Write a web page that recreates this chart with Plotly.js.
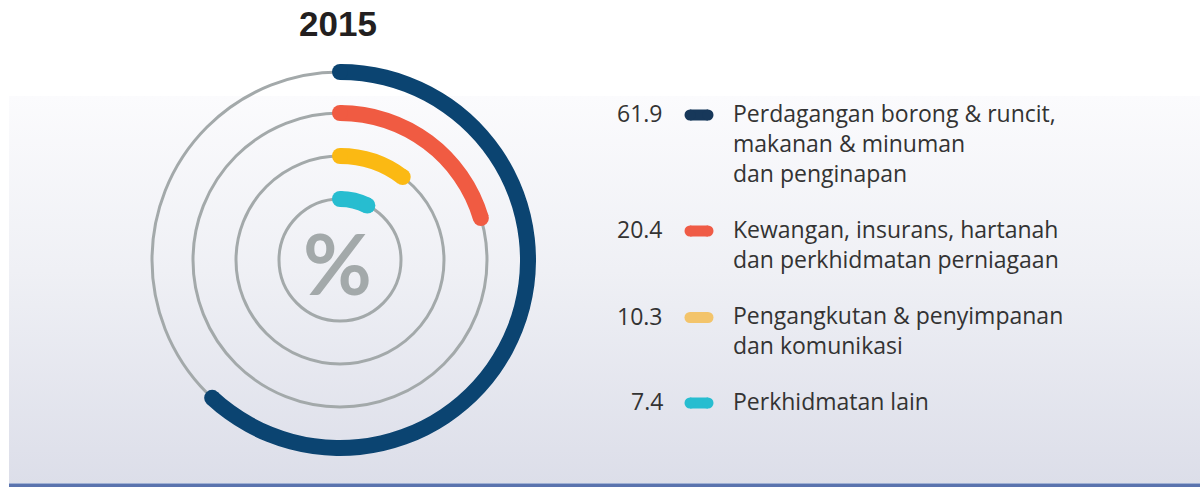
<!DOCTYPE html>
<html>
<head>
<meta charset="utf-8">
<script src="https://cdn.plot.ly/plotly-3.0.1.min.js"></script>
<style>
  html, body { margin: 0; padding: 0; background: #ffffff; }
  #wrap { position: relative; width: 1200px; height: 487px; overflow: hidden; }
  #panel { position: absolute; left: 9px; top: 96px; width: 1191px; height: 388px;
           background: linear-gradient(to bottom, #fbfbfd 0%, #eff0f5 45%, #dcdee9 100%); }
  #rule { position: absolute; left: 9px; top: 483px; width: 1191px; height: 4px;
          background: #5a73ae; border-top: 1px solid #9fb0d4; box-sizing: border-box; }
  #chart { position: absolute; left: 0; top: 0; width: 1200px; height: 487px; }
</style>
</head>
<body>
<div id="wrap">
  <div id="panel"></div>
  <div id="rule"></div>
  <div id="chart"></div>
</div>
<script>
// ---- data ----
const chartTitle = '2015';
const categories = [
  'Perdagangan borong & runcit,<br>makanan & minuman<br>dan penginapan',
  'Kewangan, insurans, hartanah<br>dan perkhidmatan perniagaan',
  'Pengangkutan & penyimpanan<br>dan komunikasi',
  'Perkhidmatan lain'
];
const values = [61.9, 20.4, 10.3, 7.4];
const valueLabels = ['61.9', '20.4', '10.3', '7.4'];
const centerSymbol = '%';

// ---- styles / layout constants ----
const arcColors = ['#0b4471', '#f05b42', '#fbb913', '#27bdd0'];
const legendColors = ['#17385a', '#ef5b46', '#f3c46b', '#27bdd0'];
const ringRadii = [188, 147, 104, 61];   // radial positions (px units on radial axis)
const ringThickness = 16;
const legendY = [113, 229, 315.5, 401]; // center of first line per entry (px from top)
const textColor = '#333333';
const gridGrey = '#a3a9aa';
const textFont = 'Open Sans, sans-serif';
const textSize = 23;
const lineStep = 1.3 * textSize;

const W = 1200, H = 487;
const cx = 340, cy = 260, R = 200;

const traces = [];
values.forEach((v, i) => {
  const sweep = v * 3.6;
  traces.push({
    type: 'barpolar',
    r: [ringThickness],
    base: [ringRadii[i] - ringThickness / 2],
    theta: [sweep / 2],
    width: [sweep],
    marker: { color: arcColors[i], line: { width: 0 } },
    hoverinfo: 'skip',
    showlegend: false,
    subplot: 'polar'
  });
  traces.push({
    type: 'scatterpolar',
    mode: 'markers',
    r: [ringRadii[i], ringRadii[i]],
    theta: [0, sweep],
    marker: { color: arcColors[i], size: ringThickness, line: { width: 0 } },
    hoverinfo: 'skip',
    showlegend: false,
    subplot: 'polar'
  });
  // legend pill
  traces.push({
    type: 'scatter',
    mode: 'lines+markers',
    x: [690, 708],
    y: [legendY[i] + 2, legendY[i] + 2],
    line: { color: legendColors[i], width: 11 },
    marker: { color: legendColors[i], size: 11, line: { width: 0 } },
    hoverinfo: 'skip',
    showlegend: false,
    xaxis: 'x', yaxis: 'y'
  });
});

const annotations = [];
annotations.push({
  text: '<b>' + chartTitle + '</b>', xref: 'paper', yref: 'paper',
  x: 338 / W, y: 1 - 24 / H, xanchor: 'center', yanchor: 'middle', showarrow: false,
  font: { family: 'Liberation Sans, Arial, sans-serif', size: 35, color: '#231f20' }
});
annotations.push({
  text: centerSymbol, xref: 'paper', yref: 'paper',
  x: 337 / W, y: 1 - 262 / H, xanchor: 'center', yanchor: 'middle', showarrow: false,
  font: { family: 'Lato, sans-serif', size: 84, color: gridGrey, weight: 'bold' }
});
categories.forEach((c, i) => {
  const nLines = c.split('<br>').length;
  annotations.push({
    text: valueLabels[i], xref: 'x', yref: 'y',
    x: 665, y: legendY[i], xanchor: 'right', yanchor: 'middle', showarrow: false,
    font: { family: textFont, size: textSize, color: textColor }
  });
  annotations.push({
    text: c, xref: 'x', yref: 'y', align: 'left',
    x: 731, y: legendY[i] + (nLines - 1) * lineStep / 2, xanchor: 'left', yanchor: 'middle',
    showarrow: false,
    font: { family: textFont, size: textSize, color: textColor }
  });
});

const layout = {
  width: W, height: H,
  margin: { l: 0, r: 0, t: 0, b: 0 },
  paper_bgcolor: 'rgba(0,0,0,0)',
  plot_bgcolor: 'rgba(0,0,0,0)',
  showlegend: false,
  xaxis: { range: [0, W], domain: [0, 1], visible: false, fixedrange: true },
  yaxis: { range: [H, 0], domain: [0, 1], visible: false, fixedrange: true },
  polar: {
    domain: { x: [(cx - R) / W, (cx + R) / W], y: [(H - cy - R) / H, (H - cy + R) / H] },
    bgcolor: 'rgba(0,0,0,0)',
    hole: 0,
    radialaxis: {
      range: [0, R], tickvals: ringRadii, showticklabels: false, ticks: '',
      showline: false, showgrid: true, gridcolor: gridGrey, gridwidth: 3
    },
    angularaxis: {
      rotation: 90, direction: 'clockwise', showgrid: false, showline: false,
      showticklabels: false, ticks: ''
    }
  },
  annotations: annotations
};

Plotly.newPlot('chart', traces, layout, { displayModeBar: false, staticPlot: true });
</script>
</body>
</html>
